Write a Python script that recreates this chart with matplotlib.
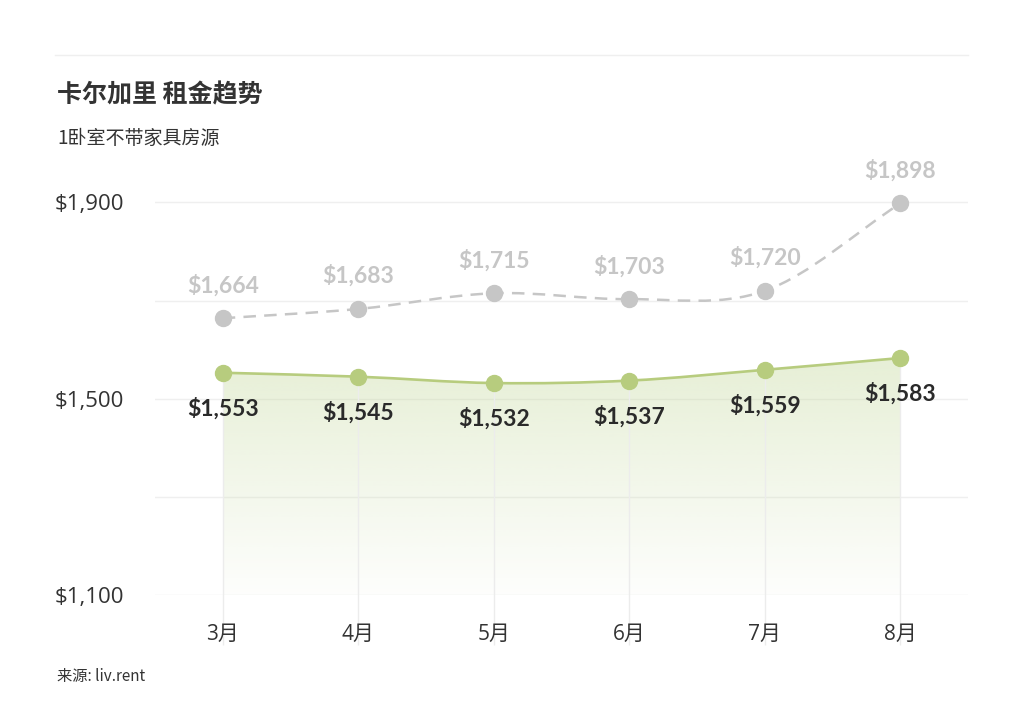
import numpy as np
import matplotlib
matplotlib.use("Agg")
import matplotlib.pyplot as plt
from matplotlib.path import Path
from matplotlib.patches import PathPatch

plt.rcParams['font.family'] = ['Open Sans', 'Noto Sans CJK SC', 'DejaVu Sans']

months = ['3月', '4月', '5月', '6月', '7月', '8月']
furnished_free = [1553, 1545, 1532, 1537, 1559, 1583]   # green series
other_series = [1664, 1683, 1715, 1703, 1720, 1898]     # grey dashed series
ytick_vals = [1100, 1500, 1900]
ytick_text = ['$1,100', '$1,500', '$1,900']
grid_vals = [1100, 1300, 1500, 1700, 1900]

green = '#b7cc7e'
grey = '#c6c6c6'
dark = '#333333'


def smooth_path(xs, ys, base=None):
    # cubic bezier through the points (catmull-rom style tangents)
    n = len(xs)
    m = []
    for i in range(n):
        if i == 0:
            m.append(ys[1] - ys[0])
        elif i == n - 1:
            m.append(ys[-1] - ys[-2])
        else:
            m.append((ys[i + 1] - ys[i - 1]) / 2.0)
    verts = [(xs[0], ys[0])]
    codes = [Path.MOVETO]
    for i in range(n - 1):
        verts += [(xs[i] + 1 / 3, ys[i] + m[i] / 3),
                  (xs[i + 1] - 1 / 3, ys[i + 1] - m[i + 1] / 3),
                  (xs[i + 1], ys[i + 1])]
        codes += [Path.CURVE4] * 3
    if base is not None:
        verts += [(xs[-1], base), (xs[0], base), (xs[0], ys[0])]
        codes += [Path.LINETO, Path.LINETO, Path.CLOSEPOLY]
    return Path(verts, codes)


fig = plt.figure(figsize=(10.24, 7.17), dpi=100)
ax = fig.add_axes([155 / 1024, 1 - 595 / 717, 813 / 1024, 445 / 717])
x = np.arange(len(months))
ax.set_xlim(-0.5, len(months) - 0.5)
ax.set_ylim(1100, 2007)
for s in ax.spines.values():
    s.set_visible(False)

for g in grid_vals:
    ax.axhline(g, color='#efefef', lw=1, zorder=0)

# gradient fill under green line
fill_patch = PathPatch(smooth_path(x, furnished_free, base=1100), facecolor='none', edgecolor='none')
ax.add_patch(fill_patch)
grad = np.zeros((256, 1, 4))
rgb = np.array(matplotlib.colors.to_rgb('#c9dca4'))
grad[:, 0, :3] = rgb
grad[:, 0, 3] = np.linspace(0.45, 0.03, 256)
im = ax.imshow(grad, aspect='auto', extent=[x[0], x[-1], 1100, max(furnished_free)],
               origin='upper', zorder=1, interpolation='bilinear')
im.set_clip_path(fill_patch)
ax.set_xlim(-0.5, len(months) - 0.5)
ax.set_ylim(1100, 2007)

# vertical guide lines
ax.vlines(x, 998, furnished_free, colors='#ececec', lw=1, zorder=1.5, clip_on=False)

# grey dashed series
ax.add_patch(PathPatch(smooth_path(x, other_series), facecolor='none', edgecolor=grey,
                       lw=1.8, linestyle=(0, (5, 3.3)), zorder=2))
ax.plot(x, other_series, 'o', color=grey, ms=11.5, zorder=3)

# green series
ax.add_patch(PathPatch(smooth_path(x, furnished_free), facecolor='none', edgecolor=green,
                       lw=1.9, zorder=2))
ax.plot(x, furnished_free, 'o', color=green, ms=11.5, zorder=3)

for xi, v in zip(x, other_series):
    ax.annotate('${:,}'.format(v), (xi, v), xytext=(0, 33), textcoords='offset pixels',
                ha='center', va='center', fontsize=16.5, fontweight='bold', color=grey,
                family=['Lato', 'DejaVu Sans'])
for xi, v in zip(x, furnished_free):
    ax.annotate('${:,}'.format(v), (xi, v), xytext=(0, -36), textcoords='offset pixels',
                ha='center', va='center', fontsize=16.5, fontweight='bold', color='#2a2a2a',
                family=['Lato', 'DejaVu Sans'])

ax.set_xticks(x)
ax.set_xticklabels(months, fontsize=15, color=dark)
ax.set_yticks(ytick_vals)
ax.set_yticklabels(ytick_text, fontsize=16, color=dark)
ax.tick_params(axis='x', length=0, pad=21)
ax.tick_params(axis='y', length=0, pad=22)

# header / footer
fig.add_artist(plt.Line2D([55 / 1024, 968 / 1024], [1 - 55 / 717] * 2, color='#efefef', lw=1))
fig.text(57 / 1024, 1 - 95 / 717, '卡尔加里 租金趋势', fontsize=18, fontweight='bold', color=dark,
         va='center', ha='left', family=['Noto Sans CJK SC', 'DejaVu Sans'])
fig.text(57 / 1024, 1 - 138 / 717, '1卧室不带家具房源', fontsize=13.7, color=dark,
         va='center', ha='left', family=['Noto Sans CJK SC', 'DejaVu Sans'])
fig.text(57 / 1024, 1 - 677 / 717, '来源: liv.rent', fontsize=11, color=dark,
         va='center', ha='left', family=['Noto Sans CJK SC', 'DejaVu Sans'])

fig.savefig('out.png', dpi=100, facecolor='white')
